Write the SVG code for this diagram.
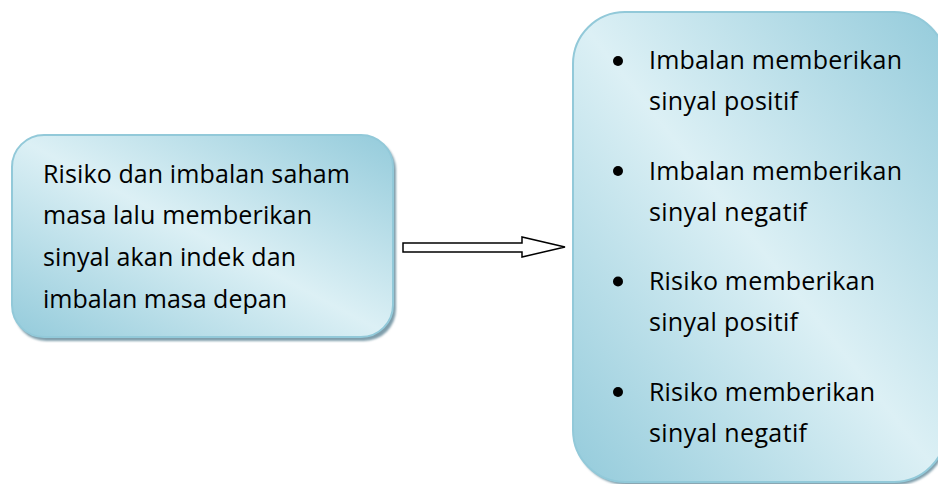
<svg xmlns="http://www.w3.org/2000/svg" width="938" height="484" viewBox="0 0 938 484">
<defs>
<linearGradient id="fill" x1="1" y1="0" x2="0" y2="1">
<stop offset="0" stop-color="#94cbdb"/>
<stop offset="0.5" stop-color="#dcf0f5"/>
<stop offset="1" stop-color="#94cbdb"/>
</linearGradient>
<filter id="blur" x="-5%" y="-5%" width="110%" height="110%"><feGaussianBlur stdDeviation="1"/></filter>
</defs>
<style>
.shadow{fill:#7f9eab;filter:url(#blur)}
.box{fill:url(#fill);stroke:#92c9d9;stroke-width:2}
.t{font-family:"Open Sans","Noto Sans","Liberation Sans",sans-serif;font-size:25px;fill:#000}
.bullet{fill:#000}
</style>
<rect width="938" height="484" fill="#ffffff"/>
<g id="node-left">
<rect class="shadow" x="14" y="138" width="382" height="203" rx="32"/>
<rect class="box" x="12" y="135" width="381" height="202" rx="32"/>
<text class="t" x="43" y="183" textLength="307" lengthAdjust="spacing">Risiko dan imbalan saham</text>
<text class="t" x="43" y="224" textLength="269" lengthAdjust="spacing">masa lalu memberikan</text>
<text class="t" x="43" y="266" textLength="253" lengthAdjust="spacing">sinyal akan indek dan</text>
<text class="t" x="43" y="308" textLength="244" lengthAdjust="spacing">imbalan masa depan</text>
</g>
<g id="connectors">
<polygon points="403,243 522,243 522,237 565,247 522,257 522,252 403,252" fill="#ffffff" stroke="#000" stroke-width="1.5" stroke-linejoin="miter"/>
</g>
<g id="node-right">
<rect class="shadow" x="575" y="15" width="373" height="470" rx="52"/>
<rect class="box" x="573" y="12" width="373" height="470" rx="52"/>
<circle class="bullet" cx="618" cy="61" r="5"/>
<text class="t" x="649" y="69" textLength="253" lengthAdjust="spacing">Imbalan memberikan</text>
<text class="t" x="649" y="110" textLength="149" lengthAdjust="spacing">sinyal positif</text>
<circle class="bullet" cx="618" cy="171" r="5"/>
<text class="t" x="649" y="179.5" textLength="253" lengthAdjust="spacing">Imbalan memberikan</text>
<text class="t" x="649" y="220.5" textLength="158" lengthAdjust="spacing">sinyal negatif</text>
<circle class="bullet" cx="618" cy="281.5" r="5"/>
<text class="t" x="649" y="290" textLength="226" lengthAdjust="spacing">Risiko memberikan</text>
<text class="t" x="649" y="331" textLength="149" lengthAdjust="spacing">sinyal positif</text>
<circle class="bullet" cx="618" cy="392" r="5"/>
<text class="t" x="649" y="400.5" textLength="226" lengthAdjust="spacing">Risiko memberikan</text>
<text class="t" x="649" y="441.5" textLength="158" lengthAdjust="spacing">sinyal negatif</text>
</g>
</svg>
